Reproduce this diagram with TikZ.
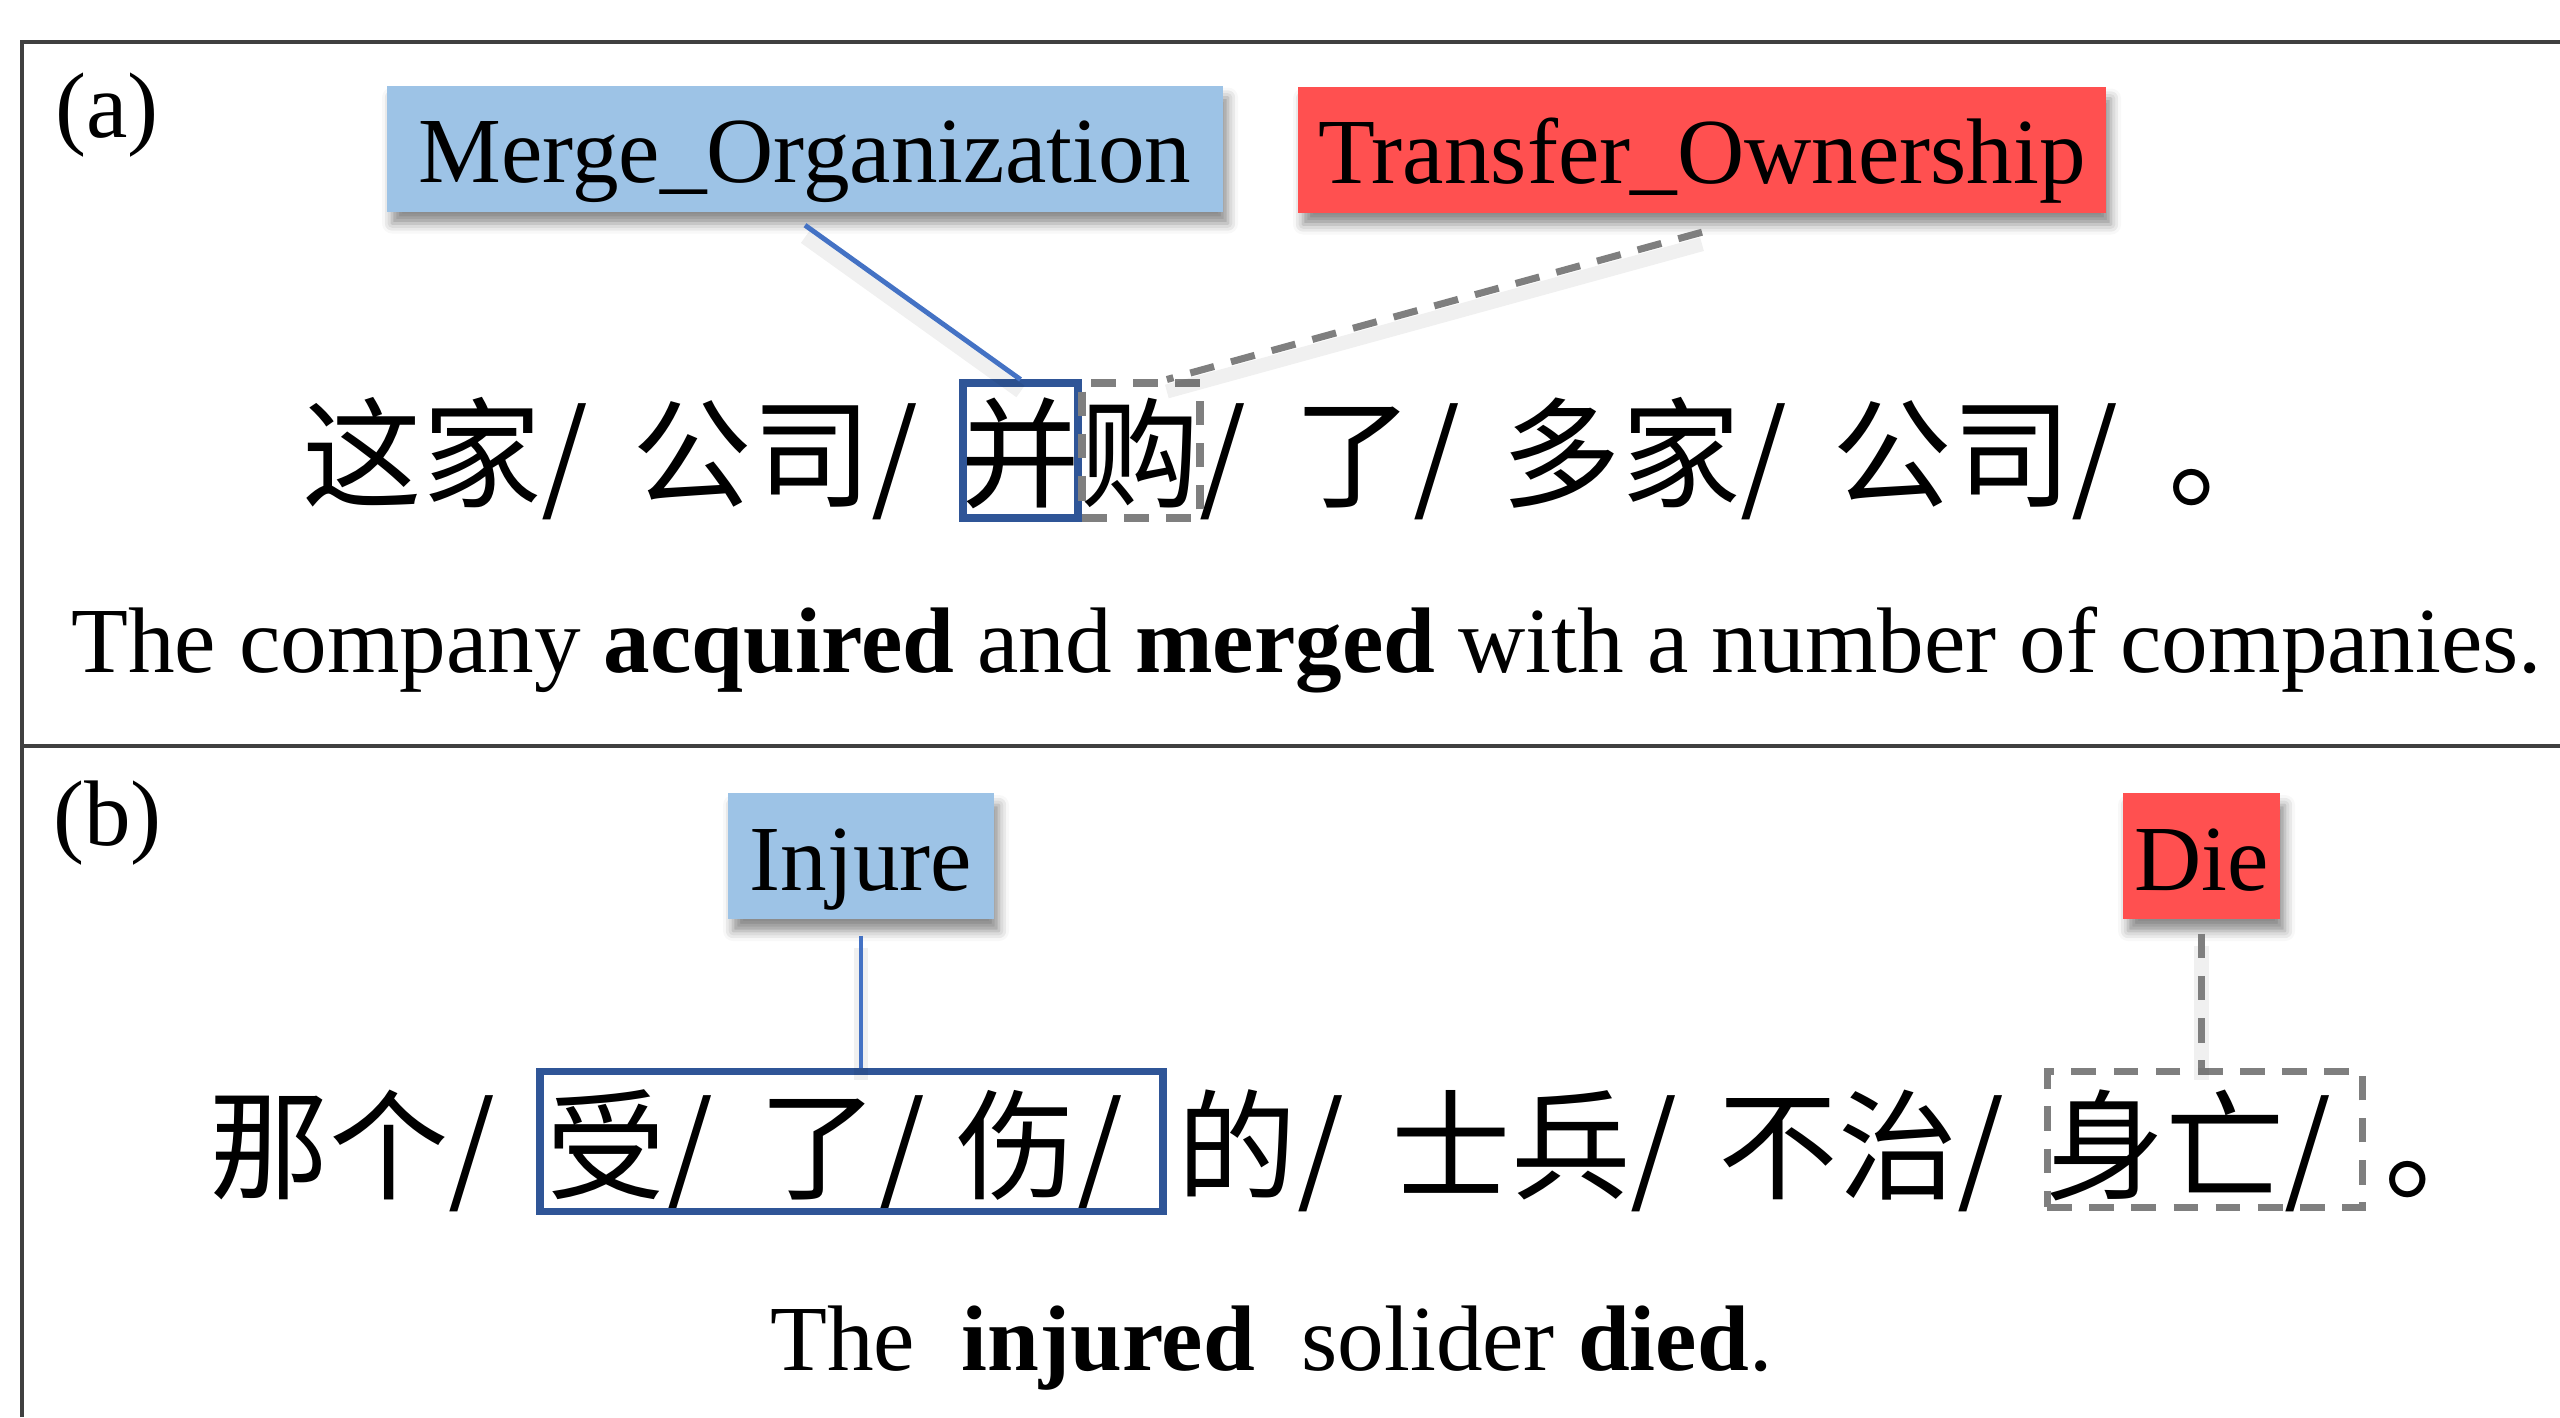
\documentclass[tikz,border=0pt]{standalone}
\usepackage{fontspec}
\setmainfont{Liberation Serif}
\newfontfamily\cjk{Noto Sans CJK SC}
\usetikzlibrary{shadows.blur}

\definecolor{lblblue}{HTML}{9DC3E6}
\definecolor{lblred}{HTML}{FF5050}
\definecolor{navy}{HTML}{2F5597}
\definecolor{linkblue}{HTML}{4472C4}
\definecolor{dashgray}{HTML}{7F7F7F}
\definecolor{framegray}{HTML}{404040}

\tikzset{
  evt/.style={inner sep=0, minimum height=1.26cm, text height=0.78cm, text depth=0.1cm,
    font=\fontsize{26.5}{30}\selectfont,
    blur shadow={shadow xshift=0.05cm, shadow yshift=-0.12cm, shadow blur radius=0.1cm, shadow opacity=45}},
  zh/.style={anchor=base west, inner sep=0, font=\cjk\fontsize{34}{40}\selectfont},
  en/.style={anchor=base west, inner sep=0, font=\fontsize{26.5}{30}\selectfont},
  tbox/.style={draw=navy, line width=2pt, inner sep=0},
  abox/.style={draw=dashgray, line width=2pt, dash pattern=on 7pt off 5pt, inner sep=0},
  lnshadow/.style={preaction={draw=black, opacity=0.06, line width=4pt, transform canvas={yshift=-0.12cm}}}
}

\begin{document}
\begin{tikzpicture}
\useasboundingbox (0,0) rectangle (25.6cm,-14.17cm);
%%frame
\draw[framegray, line width=0.9pt] (0.22cm,-14.17cm) -- (0.22cm,-0.42cm) -- (25.6cm,-0.42cm);
\draw[framegray, line width=0.9pt] (0.22cm,-7.46cm) -- (25.6cm,-7.46cm);

%%(a)
\node[en] (tagA) at (0.545cm,-1.37cm) {(a)};
%labels
\node[evt, fill=lblblue, minimum width=8.36cm] (merge) at (8.05cm,-1.485cm) {Merge\_Organization};
\node[evt, fill=lblred, minimum width=8.08cm] (transfer) at (17.02cm,-1.495cm) {Transfer\_Ownership};
%sentence
\node[zh] (za1) at (3.02cm,-4.98cm) {这家/};
\node[zh] (za2) at (6.32cm,-4.98cm) {公司/};
\node[zh] (za3) at (9.60cm,-4.98cm) {并购/};
\node[zh] (za4) at (12.93cm,-4.98cm) {了/};
\node[zh] (za5) at (15.01cm,-4.98cm) {多家/};
\node[zh] (za6) at (18.32cm,-4.98cm) {公司/};
\node[zh] (za7) at (21.68cm,-4.98cm) {。};
%triggers
\node[tbox, minimum width=1.15cm, minimum height=1.35cm] (bingbox) at (10.205cm,-4.505cm) {};
\node[abox, minimum width=1.18cm, minimum height=1.35cm] (goubox) at (11.41cm,-4.505cm) {};
%links
\draw[linkblue, line width=1.4pt, lnshadow] ([yshift=-0.13cm]merge.south) -- (bingbox.north);
\draw[dashgray, line width=2pt, dash pattern=on 7pt off 5pt, lnshadow] ([yshift=-0.19cm]transfer.south) -- (goubox.70);
%translation
\node[en] (enA) at (0.705cm,-6.72cm)
     {The company \textbf{acquired} and \textbf{merged} with a number of companies.};

%%(b)
\node[en] (tagB) at (0.525cm,-8.45cm) {(b)};
%labels
\node[evt, fill=lblblue, minimum width=2.66cm] (injure) at (8.61cm,-8.56cm) {Injure};
\node[evt, fill=lblred, minimum width=1.57cm] (die) at (22.015cm,-8.56cm) {Die};
%sentence
\node[zh] (zb1) at (2.09cm,-11.90cm) {那个/};
\node[zh] (zb2) at (5.46cm,-11.90cm) {受/};
\node[zh] (zb3) at (7.58cm,-11.90cm) {了/};
\node[zh] (zb4) at (9.56cm,-11.90cm) {伤/};
\node[zh] (zb5) at (11.77cm,-11.90cm) {的/};
\node[zh] (zb6) at (13.91cm,-11.90cm) {士兵/};
\node[zh] (zb7) at (17.18cm,-11.90cm) {不治/};
\node[zh] (zb8) at (20.45cm,-11.90cm) {身亡/};
\node[zh] (zb9) at (23.84cm,-11.90cm) {。};
%triggers
\node[tbox, minimum width=6.23cm, minimum height=1.40cm] (injbox) at (8.515cm,-11.41cm) {};
\node[abox, minimum width=3.15cm, minimum height=1.36cm] (diebox) at (22.045cm,-11.39cm) {};
%links
\draw[linkblue, line width=1.4pt, lnshadow] ([yshift=-0.16cm]injure.south) -- (injure.south |- injbox.north);
\draw[dashgray, line width=2pt, dash pattern=on 7pt off 5pt, lnshadow] ([yshift=-0.14cm]die.south) -- (die.south |- diebox.north);
%translation
\node[en] (enB) at (7.695cm,-13.70cm)
     {The\ \ \textbf{injured}\ \ solider \textbf{died}.};
\end{tikzpicture}
\end{document}
